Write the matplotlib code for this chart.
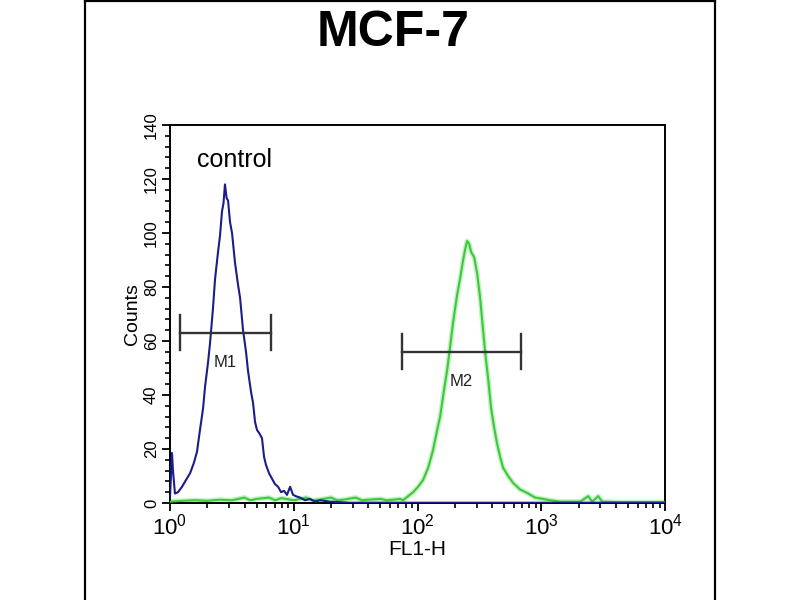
"""Flow cytometry histogram, MCF-7: control (blue) vs stained (green), FL1-H log axis."""
import math

import matplotlib
matplotlib.use("Agg")
import matplotlib.pyplot as plt
from matplotlib import font_manager
from matplotlib.lines import Line2D
from matplotlib.ticker import FixedLocator, MultipleLocator, NullFormatter

# control histogram: channel position (log10 FL1-H) and counts
control_log = [0.000, 0.016, 0.024, 0.040, 0.065, 0.097, 0.129, 0.162, 0.194, 0.218,
               0.242, 0.267, 0.283, 0.307, 0.323, 0.347, 0.364, 0.388, 0.404, 0.420,
               0.432, 0.444, 0.457, 0.469, 0.485, 0.501, 0.525, 0.549, 0.566, 0.590,
               0.614, 0.630, 0.655, 0.671, 0.687, 0.703, 0.719, 0.743, 0.760, 0.776,
               0.800, 0.824, 0.848, 0.873, 0.897, 0.921, 0.945, 0.970, 0.994, 1.018,
               1.050, 1.091, 1.131, 1.172, 1.212, 1.293, 1.374, 1.450, 2.000, 3.000, 4.000]
control_counts = [2, 18.5, 12, 3.5, 4, 6, 8.5, 11, 15, 19,
                  27, 35, 43, 52, 59, 72, 83, 93, 99, 108,
                  111, 118, 113, 112, 104, 100, 89, 81, 76, 64,
                  56, 49, 41, 37, 30, 27, 26, 24, 17, 14,
                  11, 9, 7, 6, 4, 4.5, 3, 6, 3, 2.5,
                  2, 1, 1.5, 0.5, 1, 0.5, 0.3, 0.1, 0.1, 0.1, 0.1]

# stained sample histogram
sample_log = [0.000, 0.100, 0.200, 0.300, 0.400, 0.500, 0.600, 0.650, 0.700, 0.800,
              0.850, 0.900, 1.000, 1.100, 1.150, 1.200, 1.300, 1.350, 1.400, 1.500,
              1.550, 1.600, 1.700, 1.750, 1.800, 1.859, 1.883, 1.923, 1.964, 2.004,
              2.044, 2.085, 2.125, 2.158, 2.182, 2.214, 2.238, 2.263, 2.287, 2.319,
              2.343, 2.368, 2.384, 2.400, 2.416, 2.432, 2.457, 2.481, 2.505, 2.521,
              2.545, 2.570, 2.594, 2.618, 2.642, 2.667, 2.691, 2.731, 2.772, 2.828,
              2.885, 2.949, 3.014, 3.071, 3.152, 3.313, 3.378, 3.410, 3.459, 3.491,
              3.636, 4.000]
sample_counts = [0.5, 0.8, 1, 0.8, 1.2, 1, 2, 1, 1.5, 2,
                 1, 1.8, 1, 2, 1, 1.2, 2, 1, 1.2, 2,
                 1, 1.2, 1.5, 1, 1.2, 1.5, 1, 2.5, 4, 6,
                 8.5, 13, 19.6, 27, 32, 42, 49, 58, 67, 77,
                 83, 90, 94, 97, 96, 93, 91, 85, 76, 68,
                 56, 46, 35, 28, 22, 17, 13, 10, 7.4, 5,
                 3.7, 2, 1.5, 1, 0.5, 0.5, 2.5, 0.5, 2.5, 0.5,
                 0.3, 0.3]

# marker gates: (label, left, right, height)
gates = [("M1", 1.2, 6.55, 63), ("M2", 75, 686, 56)]

installed = {f.name for f in font_manager.fontManager.ttflist}
FAMILY = "Liberation Sans Narrow" if "Liberation Sans Narrow" in installed else "Liberation Sans"
plt.rcParams["font.family"] = [FAMILY, "DejaVu Sans"]
plt.rcParams["mathtext.fontset"] = "custom"
plt.rcParams["mathtext.rm"] = FAMILY
plt.rcParams["mathtext.it"] = FAMILY

fig = plt.figure(figsize=(8, 6), dpi=100)
ax = fig.add_axes([0.2125, 0.1617, 0.619, 0.63])

cx = [10 ** v for v in control_log]
sx = [10 ** v for v in sample_log]
ax.plot(sx, sample_counts, color="#c4f2c4", lw=3.6, zorder=2)
ax.plot(sx, sample_counts, color="#3ec83e", lw=1.5, zorder=3)
ax.plot(cx, control_counts, color="#1c1c8c", lw=1.5, zorder=4)

for name, lo, hi, h in gates:
    ax.plot([lo, hi], [h, h], color="#333333", lw=1.7, zorder=5)
    for xv in (lo, hi):
        ax.plot([xv, xv], [h - 6.5, h + 6.5], color="#333333", lw=1.7, zorder=5)
    mid = 10 ** ((math.log10(lo) + math.log10(hi)) / 2)
    ax.text(mid, h - 11, name, ha="center", va="center", fontsize=12, color="#222222")

ax.text(3.3, 127, "control", ha="center", va="center", fontsize=18)

ax.set_xscale("log")
ax.set_xlim(1, 1e4)
ax.set_ylim(0, 140)
ax.xaxis.set_major_locator(FixedLocator([1, 10, 100, 1000, 10000]))
ax.set_xticklabels([r"$10^{0}$", r"$10^{1}$", r"$10^{2}$", r"$10^{3}$", r"$10^{4}$"])
ax.xaxis.set_minor_locator(FixedLocator([m * 10 ** d for d in range(4) for m in range(2, 10)]))
ax.xaxis.set_minor_formatter(NullFormatter())
ax.yaxis.set_major_locator(MultipleLocator(20))
ax.yaxis.set_minor_locator(MultipleLocator(4))
ax.tick_params(axis="both", which="major", direction="out", length=6, width=1.3)
ax.tick_params(axis="both", which="minor", direction="out", length=3.5, width=1.2)
ax.tick_params(axis="x", labelsize=16, pad=2)
ax.tick_params(axis="y", labelsize=12, pad=2)
for lab in ax.get_yticklabels():
    lab.set_rotation(90)
    lab.set_va("center")
for sp in ax.spines.values():
    sp.set_linewidth(1.4)

ax.set_xlabel("FL1-H", fontsize=15, labelpad=0)
ax.set_ylabel("Counts", fontsize=14, labelpad=2)

fig.text(0.491, 0.945, "MCF-7", ha="center", va="center", fontsize=36,
         fontweight="bold", family=["Liberation Sans", "DejaVu Sans"])

# outer frame of the original panel
for xs, ys in [([0.106, 0.106], [0, 0.998]), ([0.894, 0.894], [0, 0.998]),
               ([0.106, 0.894], [0.998, 0.998])]:
    fig.add_artist(Line2D(xs, ys, color="black", lw=1.6, transform=fig.transFigure))

fig.savefig("out.png", dpi=100)
